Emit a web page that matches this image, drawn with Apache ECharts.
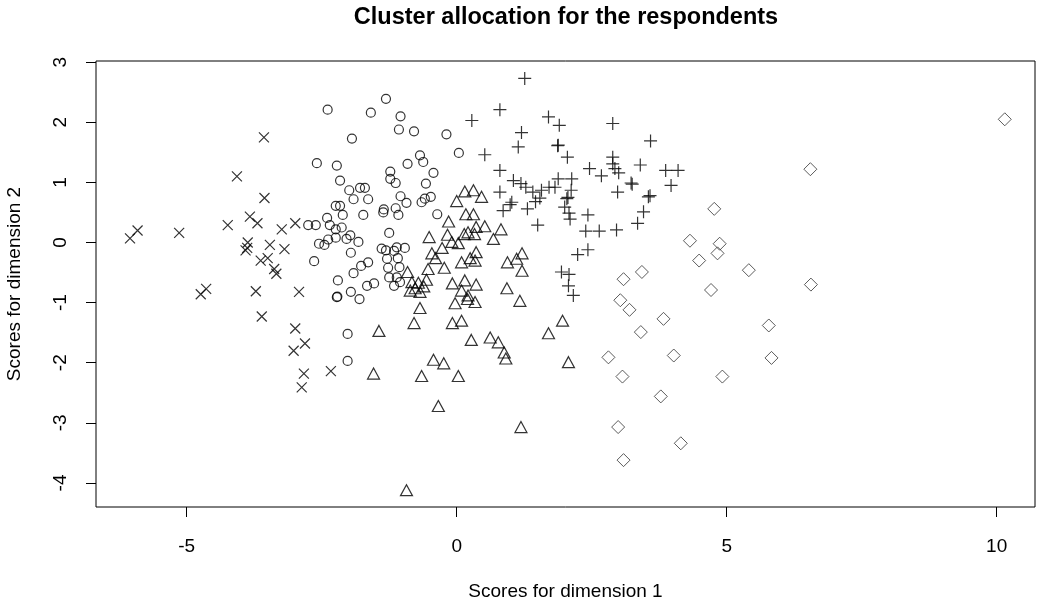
<!DOCTYPE html>
<html>
<head>
<meta charset="utf-8">
<script src="https://cdn.jsdelivr.net/npm/echarts@6/dist/echarts.min.js"></script>
<style>html,body{margin:0;padding:0;background:#fff}#c{width:1039px;height:603px}</style>
</head>
<body>
<div id="c"></div>
<script>
// Cluster 1: crosses (x)
var clusterCross = [
[-6.05,0.07],[-5.91,0.20],[-5.14,0.16],[-4.24,0.29],[-3.83,0.43],[-3.69,0.32],[-3.56,0.74],[-3.57,1.75],[-4.07,1.10],
[-3.24,0.22],[-2.99,0.32],[-3.87,0.00],[-3.91,-0.13],[-3.88,-0.09],[-3.46,-0.04],[-3.19,-0.11],[-3.63,-0.30],[-3.50,-0.26],
[-3.38,-0.44],[-3.34,-0.52],[-4.74,-0.86],[-4.64,-0.77],[-3.72,-0.81],[-2.92,-0.82],[-3.61,-1.23],[-2.99,-1.43],[-2.81,-1.68],
[-3.02,-1.80],[-2.83,-2.18],[-2.33,-2.14],[-2.87,-2.41]
];
// Cluster 2: circles
var clusterCircle = [
[-2.39,2.21],[-1.59,2.16],[-1.31,2.39],[-1.04,2.10],[-1.07,1.88],[-0.79,1.85],[-1.94,1.73],[-2.59,1.32],[-2.22,1.28],
[-0.68,1.45],[-0.62,1.34],[-0.91,1.31],[-1.23,1.18],[-1.23,1.06],[-1.13,0.99],[-2.16,1.03],[-1.79,0.91],[-1.70,0.91],
[-1.99,0.87],[-1.91,0.72],[-1.64,0.72],[-1.04,0.77],[-0.93,0.66],[-0.65,0.67],[-0.57,0.98],[-2.24,0.61],[-2.16,0.61],
[-1.35,0.55],[-1.13,0.57],[-0.19,1.80],[0.04,1.49],[-0.43,1.16],[-0.48,0.76],[-0.59,0.73],[-0.36,0.47],
[-2.11,0.46],[-1.73,0.46],[-1.36,0.50],[-1.08,0.46],[-2.75,0.29],[-2.61,0.29],[-2.40,0.41],[-2.35,0.29],[-2.24,0.22],
[-2.13,0.25],[-2.38,0.05],[-2.24,0.08],[-2.55,-0.02],[-2.45,-0.04],[-2.04,0.06],[-1.97,0.12],[-1.82,0.01],[-1.96,-0.17],
[-2.64,-0.31],[-1.25,0.16],[-1.39,-0.10],[-1.31,-0.13],[-1.11,-0.08],[-0.96,-0.09],[-1.16,-0.14],[-1.29,-0.27],[-1.09,-0.26],
[-1.77,-0.39],[-1.64,-0.33],[-1.91,-0.51],[-1.27,-0.42],[-1.06,-0.41],[-1.25,-0.58],[-1.11,-0.58],[-2.20,-0.63],[-1.66,-0.72],
[-1.53,-0.68],[-1.16,-0.72],[-1.05,-0.66],[-2.22,-0.91],[-2.21,-0.90],[-1.96,-0.82],[-1.80,-0.94],[-2.02,-1.52],[-2.02,-1.97]
];
// Cluster 3: triangles
var clusterTriangle = [
[0.15,0.85],[0.31,0.87],[0.46,0.76],[0.00,0.69],[0.17,0.47],[0.31,0.47],[-0.15,0.35],[-0.51,0.09],[-0.17,0.13],
[-0.09,0.01],[0.03,-0.01],[0.14,0.14],[0.21,0.17],[0.33,0.14],[0.36,0.26],[0.52,0.27],[0.82,0.22],[0.68,0.06],
[-0.27,-0.09],[-0.46,-0.18],[-0.39,-0.26],[-0.23,-0.42],[-0.53,-0.44],[0.09,-0.33],[0.25,-0.26],[0.36,-0.16],[0.34,-0.30],
[0.94,-0.33],[1.11,-0.27],[1.21,-0.18],[1.21,-0.47],[-0.56,-0.62],[-0.91,-0.49],[-0.83,-0.66],[-0.71,-0.67],[-0.77,-0.76],
[-0.86,-0.80],[-0.68,-0.82],[-0.61,-0.73],[-0.08,-0.68],[0.15,-0.63],[0.36,-0.70],[0.09,-0.80],[0.21,-0.88],[-0.03,-1.01],
[0.20,-0.94],[0.34,-0.99],[-0.68,-1.09],[-0.79,-1.34],[0.93,-0.76],[1.17,-0.97],[-0.08,-1.34],[0.09,-1.30],[0.27,-1.62],
[0.62,-1.58],[0.77,-1.66],[0.88,-1.83],[0.91,-1.93],[1.96,-1.30],[1.70,-1.51],[-1.44,-1.47],[-1.54,-2.18],[-0.65,-2.22],
[-0.93,-4.12],[-0.43,-1.95],[-0.24,-2.01],[0.03,-2.22],[-0.34,-2.72],[2.07,-1.99],[1.19,-3.07]
];
// Cluster 4: plus signs
var clusterPlus = [
[1.26,2.73],[0.80,2.21],[0.28,2.03],[1.70,2.09],[1.90,1.95],[2.89,1.98],[1.20,1.83],[3.59,1.69],[1.14,1.59],[1.87,1.61],
[1.88,1.62],[2.05,1.42],[0.52,1.46],[0.80,1.20],[2.46,1.23],[2.68,1.11],[2.89,1.42],[2.89,1.31],[2.93,1.23],[3.00,1.16],
[3.40,1.29],[3.87,1.20],[4.10,1.20],[3.97,0.95],[3.23,0.99],[3.25,0.97],[2.98,0.84],[3.55,0.76],[3.58,0.78],[1.05,1.03],
[1.19,0.98],[1.28,0.92],[1.41,0.84],[1.57,0.87],[1.71,0.92],[1.88,1.06],[2.13,1.06],[1.82,0.92],[2.12,0.87],[0.80,0.84],
[2.04,0.73],[2.06,0.75],[1.02,0.67],[1.54,0.74],[1.46,0.68],[0.86,0.53],[0.99,0.63],[1.31,0.56],[1.50,0.29],[2.00,0.59],
[2.08,0.49],[2.10,0.39],[2.43,0.46],[2.39,0.19],[2.64,0.19],[2.96,0.21],[3.35,0.32],[3.46,0.51],[2.24,-0.20],[2.43,-0.12],
[1.94,-0.49],[2.08,-0.53],[2.07,-0.72],[2.16,-0.88]
];
// Cluster 5: diamonds
var clusterDiamond = [
[10.15,2.05],[6.55,1.22],[4.77,0.56],[4.32,0.03],[4.49,-0.30],[4.87,-0.02],[4.83,-0.18],[4.71,-0.79],[3.43,-0.49],
[3.09,-0.61],[3.03,-0.96],[3.20,-1.12],[3.83,-1.27],[3.41,-1.49],[5.41,-0.46],[6.56,-0.70],[5.78,-1.38],[5.83,-1.92],
[2.81,-1.91],[4.02,-1.88],[3.07,-2.23],[4.92,-2.23],[3.78,-2.56],[2.99,-3.07],[4.15,-3.34],[3.09,-3.62]
];
var xTicks = [-5, 0, 5, 10];
var yTicks = [-4, -3, -2, -1, 0, 1, 2, 3];
var titleText = 'Cluster allocation for the respondents';
var xLabel = 'Scores for dimension 1';
var yLabel = 'Scores for dimension 2';

var FONT = '"Liberation Sans", Arial, sans-serif';
var chart = echarts.init(document.getElementById('c'), null, {renderer: 'canvas'});
function ser(name, data, symbol, size, stroke, w) {
  return {
    name: name, type: 'scatter', data: data, symbol: symbol, symbolSize: size,
    itemStyle: {color: 'rgba(0,0,0,0)', borderColor: stroke || '#000', borderWidth: w || 1.2},
    emphasis: {disabled: true}, silent: true
  };
}
chart.setOption({
  animation: false,
  backgroundColor: '#fff',
  grid: {left: 96, right: 4, top: 61, bottom: 96, show: true, borderColor: '#000', borderWidth: 1,
         backgroundColor: 'transparent', outerBoundsMode: 'none', containLabel: false},
  graphic: [{
    type: 'text', x: 566, y: 18,
    style: {text: titleText, font: 'bold 23.5px ' + FONT, fill: '#000', textAlign: 'center', textVerticalAlign: 'middle'}
  }],
  xAxis: {
    type: 'value', min: -6.68, max: 10.71,
    name: xLabel, nameLocation: 'middle', nameGap: 75,
    nameTextStyle: {fontFamily: FONT, fontSize: 19, color: '#000'},
    axisLine: {show: false, onZero: false},
    splitLine: {show: false},
    axisTick: {show: true, inside: false, length: 10, customValues: xTicks, lineStyle: {color: '#000', width: 1}},
    axisLabel: {show: true, customValues: xTicks, margin: 30, fontFamily: FONT, fontSize: 19, color: '#000'}
  },
  yAxis: {
    type: 'value', min: -4.40, max: 3.02,
    name: yLabel, nameLocation: 'middle', nameGap: 72, nameRotate: 90,
    nameTextStyle: {fontFamily: FONT, fontSize: 19, color: '#000'},
    axisLine: {show: false, onZero: false},
    splitLine: {show: false},
    axisTick: {show: true, inside: false, length: 10, customValues: yTicks, lineStyle: {color: '#000', width: 1}},
    axisLabel: {show: true, customValues: yTicks, rotate: 90, margin: 26, fontFamily: FONT, fontSize: 19, color: '#000'}
  },
  series: [
    ser('cross', clusterCross, 'path://M0,0L10,10M0,10L10,0', 10),
    ser('circle', clusterCircle, 'circle', 9),
    ser('triangle', clusterTriangle, 'triangle', [12, 11]),
    ser('plus', clusterPlus, 'path://M0,6L12,6M6,0L6,12', 13),
    ser('diamond', clusterDiamond, 'diamond', 13, '#333', 1)
  ]
});
</script>
</body>
</html>
